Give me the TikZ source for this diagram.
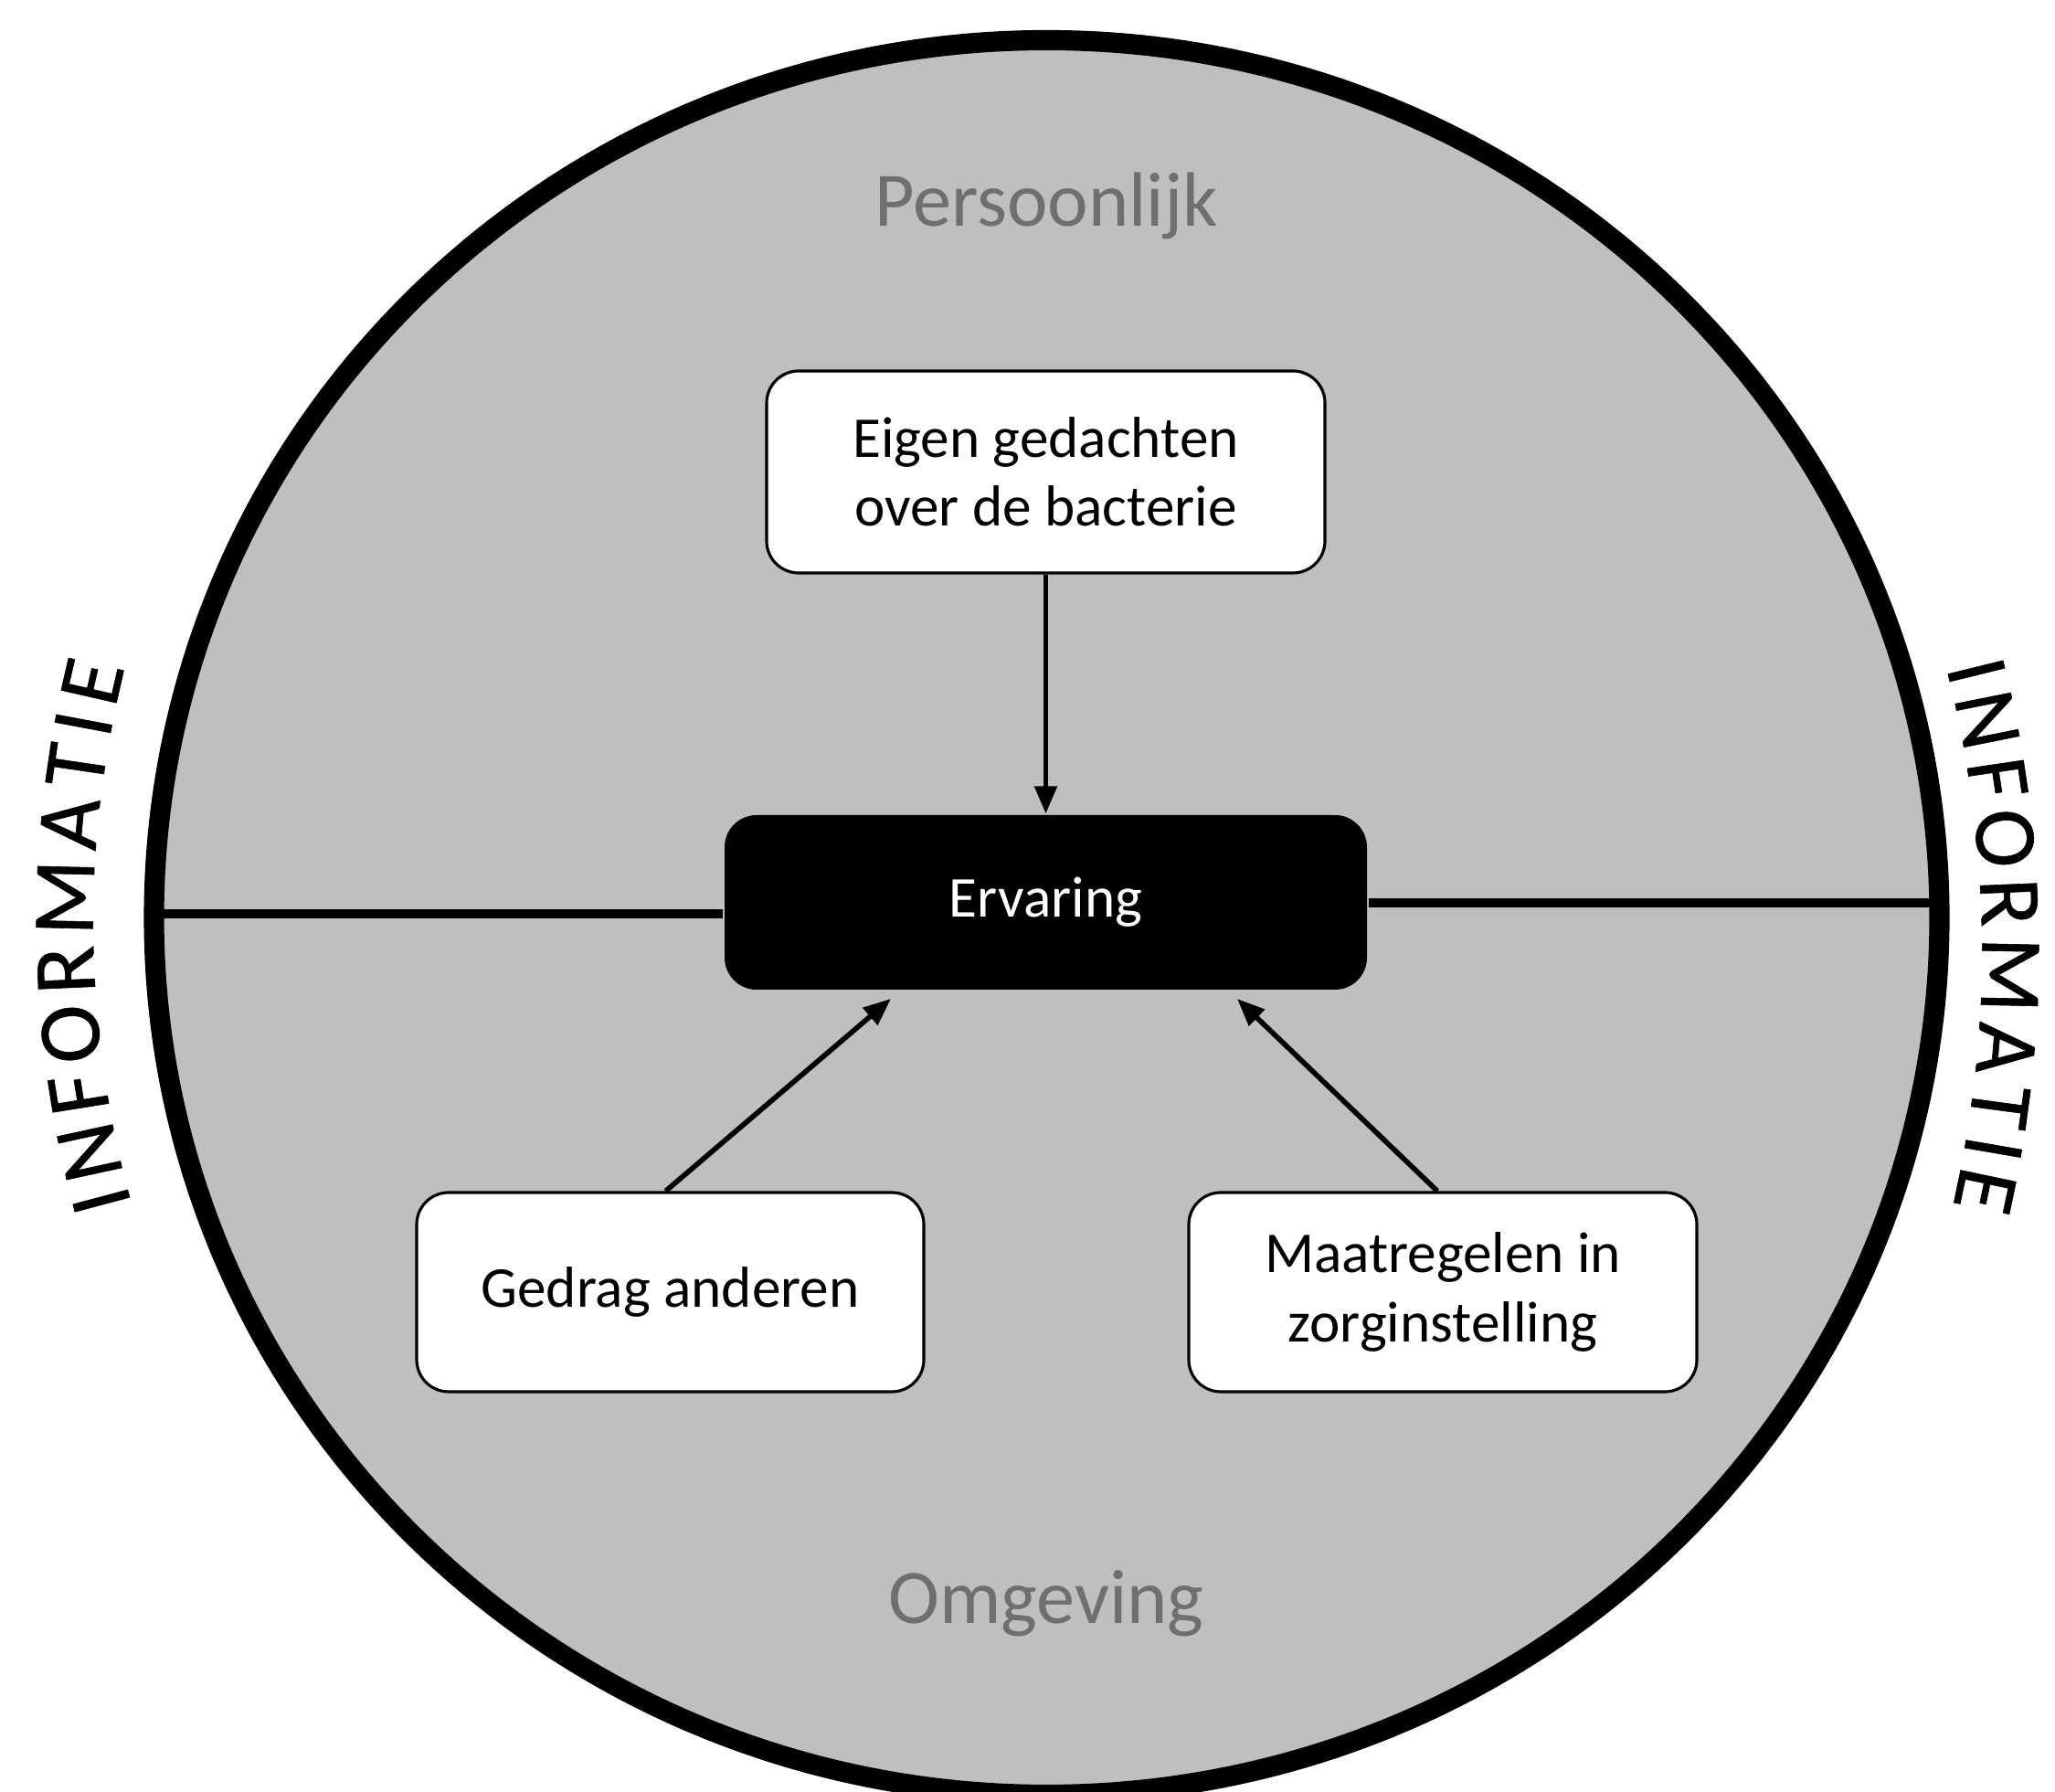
\documentclass[tikz,border=0pt]{standalone}
\usepackage{fontspec}
\setmainfont{Carlito}
\usepackage{tikz}
\usetikzlibrary{arrows.meta}
\usetikzlibrary{decorations.text}

\definecolor{ringgray}{HTML}{BFBFBF}
\definecolor{labelgray}{HTML}{6F6F6F}
\newcommand{\infofont}{\fontsize{27.5}{30}\selectfont\addfontfeature{FakeBold=0.6}}

\begin{document}
\begin{tikzpicture}
	\useasboundingbox (0,0) rectangle (22.49,19.61);
	\fill[white] (0,0) rectangle (22.49,19.61);

	% ring
	\draw[line width=6.3pt, fill=ringgray] (11.455,9.57) ellipse [x radius=9.77, y radius=9.60];

	\begin{scope}[every node/.style = {draw, fill=white, line width=0.9pt, rounded corners=3.5mm,
			align=center, inner sep=0pt, font=\fontsize{18}{21.5}\selectfont}]
		\node[minimum width=6.11cm, minimum height=2.21cm] (gedachten) at (11.445,14.445) {Eigen gedachten\\over de bacterie};
		\node[minimum width=5.55cm, minimum height=2.18cm] (gedrag) at (7.335,5.47) {Gedrag anderen};
		\node[minimum width=5.56cm, minimum height=2.18cm] (maatregelen) at (15.79,5.47) {Maatregelen in\\zorginstelling};
		\node[fill=black, draw=none, text=white, minimum width=7.03cm, minimum height=1.91cm] (ervaring) at (11.445,9.735) {Ervaring};
	\end{scope}

	\node[text=labelgray, font=\fontsize{24}{28}\selectfont] (persoonlijk) at (11.45,17.36) {Persoonlijk};
	\node[text=labelgray, font=\fontsize{24}{28}\selectfont] (omgeving) at (11.45,2.06) {Omgeving};

	% split line
	\coordinate (lrim) at (1.69,9.61);
	\coordinate (rrim) at (21.23,9.73);
	\draw[line width=2.8pt] (lrim) -- (lrim -| ervaring.west);
	\draw[line width=2.8pt] (rrim) -- (rrim -| ervaring.east);

	\coordinate (gedragtip) at (9.75,8.68);
	\coordinate (maatregeltip) at (13.54,8.68);
	\begin{scope}[>={Triangle[length=3mm,width=2.4mm]},
			every edge/.style={draw=black, line width=1.6pt}]
		\path [->] (gedachten) edge (ervaring);
		\path [->] ([xshift=-0.05cm]gedrag.north) edge (gedragtip);
		\path [->] ([xshift=-0.06cm]maatregelen.north) edge (maatregeltip);
	\end{scope}

	% side texts
	\coordinate (lcen) at (12.52,9.51);
	\coordinate (rcen) at (9.19,9.21);
	\path[decorate, decoration={text along path, text={|\infofont|INFORMATIE}, text align={fit to path}}]
		([shift={(195.53:11.5)}]lcen) arc [start angle=195.53, end angle=165.91, radius=11.5];
	\path[decorate, decoration={text along path, text={|\infofont|INFORMATIE}, text align={fit to path}}]
		([shift={(14.36:12.5)}]rcen) arc [start angle=14.36, end angle=-12.94, radius=12.5];
\end{tikzpicture}
\end{document}
